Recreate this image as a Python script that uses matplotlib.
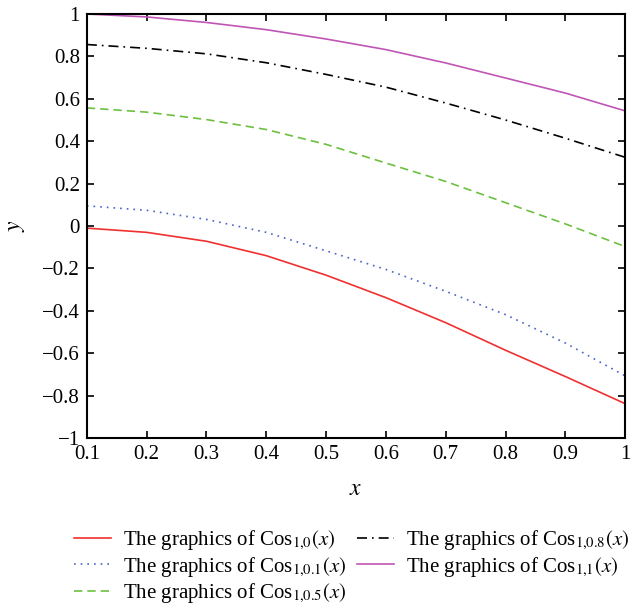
import matplotlib
matplotlib.use("Agg")
import matplotlib.pyplot as plt
from matplotlib.ticker import FuncFormatter
import numpy as np

plt.rcParams['font.family'] = ['Liberation Serif', 'DejaVu Serif']
plt.rcParams['mathtext.fontset'] = 'stix'

x = [0.1, 0.2, 0.3, 0.4, 0.5, 0.6, 0.7, 0.8, 0.9, 1.0]
cos_1_0 = [-0.01, -0.03, -0.072, -0.14, -0.232, -0.338, -0.456, -0.586, -0.71, -0.838]
cos_1_01 = [0.095, 0.074, 0.031, -0.03, -0.117, -0.205, -0.308, -0.418, -0.552, -0.707]
cos_1_05 = [0.557, 0.537, 0.502, 0.455, 0.385, 0.297, 0.21, 0.11, 0.01, -0.097]
cos_1_08 = [0.856, 0.838, 0.812, 0.77, 0.715, 0.655, 0.58, 0.50, 0.414, 0.324]
cos_1_1 = [1.0, 0.986, 0.96, 0.926, 0.882, 0.832, 0.769, 0.698, 0.627, 0.543]

labels = [r'The graphics of Cos$_{1{,}0}(x)$',
          r'The graphics of Cos$_{1{,}0.1}(x)$',
          r'The graphics of Cos$_{1{,}0.5}(x)$',
          r'The graphics of Cos$_{1{,}0.8}(x)$',
          r'The graphics of Cos$_{1{,}1}(x)$']

xticks = [0.1, 0.2, 0.3, 0.4, 0.5, 0.6, 0.7, 0.8, 0.9, 1.0]
yticks = [-1, -0.8, -0.6, -0.4, -0.2, 0, 0.2, 0.4, 0.6, 0.8, 1]


def fmt(v, pos):
    s = '%g' % round(v, 2)
    return s.replace('-', '\u2212')


fig = plt.figure(figsize=(6.34, 6.08), dpi=100)
ax = fig.add_axes([0.137, 0.2796, 0.849, 0.6974])

ax.plot(x, cos_1_0, color='#f03030', lw=1.2, ls='-', label=labels[0])
ax.plot(x, cos_1_01, color='#4a62c8', lw=1.2, ls=(0, (1, 3)), label=labels[1])
ax.plot(x, cos_1_05, color='#6cc040', lw=1.2, ls=(0, (5, 3)), label=labels[2])
ax.plot(x, cos_1_08, color='black', lw=1.2, ls=(0, (6, 3, 1, 3)), label=labels[3])
ax.plot(x, cos_1_1, color='#c055b5', lw=1.2, ls='-', label=labels[4])

ax.set_xlim(0.1, 1.0)
ax.set_ylim(-1, 1)
ax.set_xticks(xticks)
ax.set_yticks(yticks)
ax.xaxis.set_major_formatter(FuncFormatter(fmt))
ax.yaxis.set_major_formatter(FuncFormatter(fmt))
ax.tick_params(direction='in', length=5, width=1.2, labelsize=15,
               top=True, right=True, pad=5)
for sp in ax.spines.values():
    sp.set_linewidth(1.5)

ax.set_xlabel('$x$', fontsize=17, labelpad=11)
ax.set_ylabel('$y$', fontsize=17, labelpad=11)

ax.legend(loc='upper left', bbox_to_anchor=(0.101, 0.148),
          bbox_transform=fig.transFigure, ncol=2, frameon=False,
          fontsize=15, handlelength=1.75, handletextpad=0.6,
          columnspacing=0.5, labelspacing=0.15, borderpad=0)

fig.savefig('out.png', dpi=100)
